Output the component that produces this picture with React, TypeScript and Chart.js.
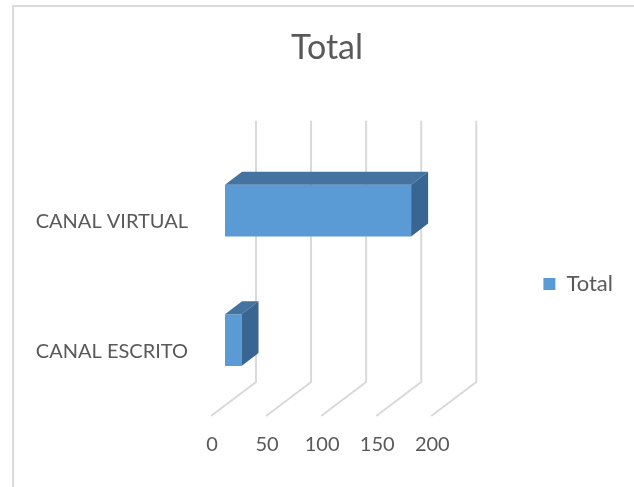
import { useEffect, useRef } from 'react';
import { Chart, registerables } from 'chart.js';

Chart.register(...registerables);

// ---- data ----
const categories = ['CANAL VIRTUAL', 'CANAL ESCRITO'];
const totalValues = [169, 15];
const seriesName = 'Total';
const chartTitle = 'Total';
const axisMin = 0;
const axisMax = 200;
const axisStep = 50;

// ---- style ----
const FRONT = '#5B9BD5';
const TOP = '#44739F';
const SIDE = '#386591';
const GRID = '#d9d9d9';
const TEXT = '#595959';
const FONT = 'Lato';
const DEPTH = { dx: 17, dy: 13 };
const BACK = { dx: 31, dy: 23 };
const FRONT_PLANE = { dx: 14, dy: 11 };

const framePlugin = {
  id: 'frame',
  beforeDraw(chart: any) {
    const ctx = chart.ctx;
    ctx.save();
    ctx.fillStyle = GRID;
    ctx.fillRect(12, 5, chart.width, 2);
    ctx.fillRect(12, 5, 2, chart.height);
    ctx.restore();
  },
};

const grid3dPlugin = {
  id: 'grid3d',
  beforeDatasetsDraw(chart: any) {
    const { ctx, chartArea, scales } = chart;
    const xs = scales.x;
    ctx.save();
    ctx.strokeStyle = GRID;
    ctx.lineWidth = 2;
    xs.ticks.forEach((t: any) => {
      const px = xs.getPixelForValue(t.value);
      ctx.beginPath();
      ctx.moveTo(px + BACK.dx, chartArea.top - BACK.dy - 2);
      ctx.lineTo(px + BACK.dx, chartArea.bottom - BACK.dy);
      ctx.lineTo(px - FRONT_PLANE.dx, chartArea.bottom + FRONT_PLANE.dy);
      ctx.stroke();
    });
    ctx.restore();
  },
};

const bar3dPlugin = {
  id: 'bar3d',
  afterDatasetsDraw(chart: any) {
    const ctx = chart.ctx;
    ctx.save();
    chart.getDatasetMeta(0).data.forEach((bar: any) => {
      const { x, y, base, height } = bar.getProps(['x', 'y', 'base', 'height'], true);
      const top = y - height / 2;
      const bottom = y + height / 2;
      const left = Math.min(x, base);
      const right = Math.max(x, base);
      ctx.fillStyle = TOP;
      ctx.beginPath();
      ctx.moveTo(left, top);
      ctx.lineTo(left + DEPTH.dx, top - DEPTH.dy);
      ctx.lineTo(right + DEPTH.dx, top - DEPTH.dy);
      ctx.lineTo(right, top);
      ctx.closePath();
      ctx.fill();
      ctx.fillStyle = SIDE;
      ctx.beginPath();
      ctx.moveTo(right, top);
      ctx.lineTo(right + DEPTH.dx, top - DEPTH.dy);
      ctx.lineTo(right + DEPTH.dx, bottom - DEPTH.dy);
      ctx.lineTo(right, bottom);
      ctx.closePath();
      ctx.fill();
    });
    ctx.restore();
  },
};

export default function App() {
  const ref = useRef<HTMLCanvasElement>(null);
  useEffect(() => {
    if (!ref.current) return;
    const labelFont = { family: FONT, size: 20, weight: 'normal' as const };
    const legendFont = { family: FONT, size: 22, weight: 'normal' as const };
    const chart = new Chart(ref.current, {
      type: 'bar',
      data: {
        labels: categories,
        datasets: [
          {
            label: seriesName,
            data: totalValues,
            backgroundColor: FRONT,
            borderWidth: 0,
            barPercentage: 0.4,
            categoryPercentage: 1,
            xAxisID: 'x',
          },
        ],
      },
      options: {
        indexAxis: 'y',
        animation: false,
        responsive: false,
        layout: { padding: { left: 31, right: 11, top: 0, bottom: 2 } },
        plugins: {
          title: {
            display: true,
            text: chartTitle,
            color: TEXT,
            font: { family: FONT, size: 34, weight: 'normal' },
            padding: { top: 28, bottom: 77 },
          },
          legend: {
            position: 'right',
            align: 'center',
            fullSize: false,
            title: { display: true, text: '', font: { size: 17, lineHeight: 1 }, padding: 0 },
            labels: {
              boxWidth: 12,
              boxHeight: 12,
              padding: 10,
              color: TEXT,
              font: legendFont,
            },
          },
          tooltip: { enabled: false },
        },
        scales: {
          x: {
            min: axisMin,
            max: axisMax,
            stack: 'xrow',
            stackWeight: 220,
            ticks: {
              stepSize: axisStep,
              padding: 28,
              labelOffset: -13,
              color: TEXT,
              font: labelFont,
              maxRotation: 0,
              minRotation: 0,
              autoSkip: false,
            },
            grid: { display: false, drawTicks: false },
            border: { display: false },
          },
          xSpace: {
            type: 'linear',
            position: 'bottom',
            display: false,
            stack: 'xrow',
            stackWeight: 88,
          },
          y: {
            ticks: { padding: 37, labelOffset: 11, color: TEXT, font: labelFont },
            grid: { display: false, drawTicks: false },
            border: { display: false },
            afterFit: (s: any) => {
              s.width = 194;
            },
          },
        },
      },
      plugins: [framePlugin, grid3dPlugin, bar3dPlugin],
    });
    return () => chart.destroy();
  }, []);
  return (
    <div style={{ position: 'fixed', left: 0, top: 0, width: 634, height: 487, background: '#fff' }}>
      <canvas ref={ref} width={634} height={487} style={{ display: 'block' }} />
    </div>
  );
}
